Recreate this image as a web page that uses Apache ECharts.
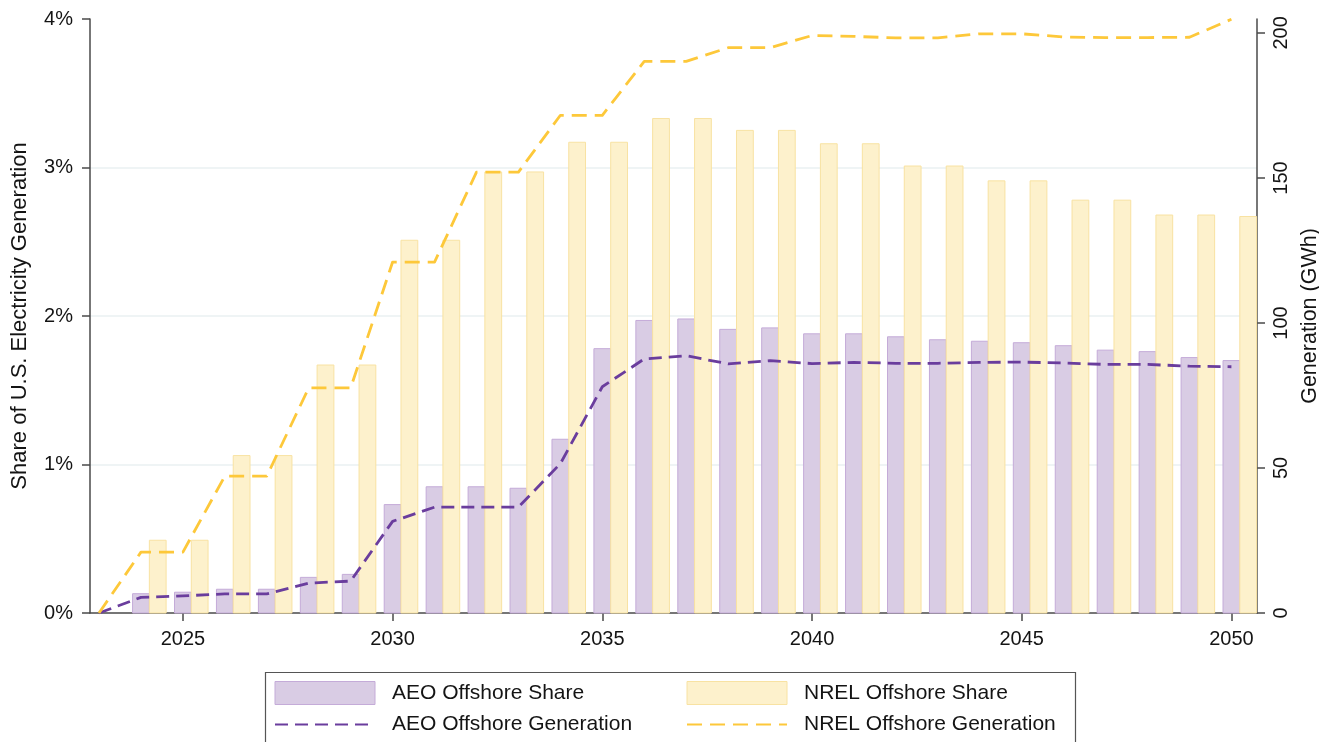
<!DOCTYPE html>
<html>
<head>
<meta charset="utf-8">
<script src="https://cdn.jsdelivr.net/npm/echarts@6/dist/echarts.min.js"></script>
<style>html,body{margin:0;padding:0;background:#fff}#c{width:1319px;height:742px}</style>
</head>
<body>
<div id="c"></div>
<script>
// ---- data ----
const lineYears = [2023,2024,2025,2026,2027,2028,2029,2030,2031,2032,2033,2034,2035,2036,2037,2038,2039,2040,2041,2042,2043,2044,2045,2046,2047,2048,2049,2050];
const barYears  = [2024,2025,2026,2027,2028,2029,2030,2031,2032,2033,2034,2035,2036,2037,2038,2039,2040,2041,2042,2043,2044,2045,2046,2047,2048,2049,2050];
const aeoShare  = [0.13,0.14,0.16,0.16,0.24,0.26,0.73,0.85,0.85,0.84,1.17,1.78,1.97,1.98,1.91,1.92,1.88,1.88,1.86,1.84,1.83,1.82,1.80,1.77,1.76,1.72,1.70];
const nrelShare = [0.49,0.49,1.06,1.06,1.67,1.67,2.51,2.51,2.97,2.97,3.17,3.17,3.33,3.33,3.25,3.25,3.16,3.16,3.01,3.01,2.91,2.91,2.78,2.78,2.68,2.68,2.67];
const aeoGen    = [0,5.4,5.9,6.6,6.6,10.3,11.0,31.6,36.5,36.5,36.5,51.5,78.0,87.6,88.7,85.9,87.0,86.0,86.4,86.1,86.1,86.4,86.5,86.2,85.7,85.7,85.1,84.9];
const nrelGen   = [0,21.0,21.0,47.2,47.2,77.6,77.6,121.0,121.0,152.0,152.0,171.6,171.6,190.2,190.2,194.9,194.9,199.1,198.8,198.3,198.3,199.7,199.7,198.6,198.4,198.4,198.5,204.7];
const xTicks    = [2025,2030,2035,2040,2045,2050];
const leftTicks = [0,1,2,3,4];
const rightTicks= [0,50,100,150,200];

const FONT = "'Liberation Sans', Arial, sans-serif";
const TXT = '#141414';
const AX = '#4a4a4a';
const PURPLE_FILL = '#d9cce4', PURPLE_EDGE = '#c4abd8', PURPLE_LINE = '#6a3d9d';
const YELLOW_FILL = '#fdf1cc', YELLOW_EDGE = '#f8e2a2', YELLOW_LINE = '#fdc83a';

function barRenderer(off0, off1, fill, stroke) {
  return function (params, api) {
    const yr = api.value(0), v = api.value(1);
    const a = api.coord([yr + off0, v]);
    const b = api.coord([yr + off1, 0]);
    return {
      type: 'rect',
      shape: { x: a[0], y: a[1], width: b[0] - a[0], height: b[1] - a[1] },
      style: { fill: fill, stroke: stroke, lineWidth: 1 }
    };
  };
}

const legendCommon = {
  orient: 'vertical', top: 681, padding: 0,
  itemWidth: 100, itemHeight: 23, itemGap: 9,
  textStyle: { fontSize: 21, color: TXT, fontFamily: FONT, padding: [0, 0, 0, 12] }
};

const chart = echarts.init(document.getElementById('c'), null, { renderer: 'canvas' });
chart.setOption({
  animation: false,
  backgroundColor: '#fff',
  textStyle: { fontFamily: FONT },
  grid: { left: 90, right: 62, top: 19, bottom: 129, containLabel: false, outerBoundsMode: 'none' },
  graphic: [{
    type: 'rect', left: 263, top: 670, silent: true,
    shape: { width: 810, height: 90 },
    style: { fill: 'none', stroke: '#555', lineWidth: 1.2 }
  }],
  legend: [Object.assign({}, legendCommon, {
    left: 274,
    data: [
      { name: 'AEO Offshore Share', icon: 'rect', itemStyle: { color: PURPLE_FILL, borderColor: PURPLE_EDGE, borderWidth: 1 } },
      { name: 'AEO Offshore Generation', itemStyle: { opacity: 0 } }
    ]
  }), Object.assign({}, legendCommon, {
    left: 686,
    data: [
      { name: 'NREL Offshore Share', icon: 'rect', itemStyle: { color: YELLOW_FILL, borderColor: YELLOW_EDGE, borderWidth: 1 } },
      { name: 'NREL Offshore Generation', itemStyle: { opacity: 0 } }
    ]
  })],
  xAxis: {
    type: 'value', min: 2022.785, max: 2050.61,
    axisLine: { show: true, lineStyle: { color: AX, width: 1.5 } },
    axisTick: { show: true, length: 8, customValues: xTicks, lineStyle: { color: AX, width: 1.5 } },
    axisLabel: { customValues: xTicks, fontSize: 20, color: TXT, margin: 16, fontFamily: FONT, formatter: v => String(v) },
    splitLine: { show: false }
  },
  yAxis: [{
    type: 'value', min: 0, max: 4, interval: 1, position: 'left',
    name: 'Share of U.S. Electricity Generation', nameLocation: 'middle', nameGap: 59,
    nameTextStyle: { fontSize: 22, color: TXT, fontFamily: FONT },
    axisLine: { show: true, lineStyle: { color: AX, width: 1.5 } },
    axisTick: { show: true, length: 8, lineStyle: { color: AX, width: 1.5 } },
    axisLabel: { customValues: leftTicks, fontSize: 20, color: TXT, margin: 17, fontFamily: FONT, formatter: v => v + '%' },
    splitLine: { show: true, showMinLine: false, showMaxLine: false, lineStyle: { color: '#eaf0f2', width: 1.5 } }
  }, {
    type: 'value', min: 0, max: 204.8, position: 'right',
    name: 'Generation (GWh)', nameLocation: 'middle', nameGap: 40,
    nameTextStyle: { fontSize: 21.5, color: TXT, fontFamily: FONT },
    axisLine: { show: true, lineStyle: { color: AX, width: 1.5 } },
    axisTick: { show: true, length: 8, customValues: rightTicks, lineStyle: { color: AX, width: 1.5 } },
    axisLabel: { customValues: rightTicks, rotate: 90, fontSize: 20, color: TXT, margin: 14, fontFamily: FONT },
    splitLine: { show: false }
  }],
  series: [{
    name: 'AEO Offshore Share', type: 'custom', xAxisIndex: 0, yAxisIndex: 0, z: 2,
    renderItem: barRenderer(-0.2, 0.2, PURPLE_FILL, PURPLE_EDGE),
    encode: { x: 0, y: 1 },
    itemStyle: { color: PURPLE_FILL },
    data: barYears.map((y, i) => [y, aeoShare[i]])
  }, {
    name: 'NREL Offshore Share', type: 'custom', xAxisIndex: 0, yAxisIndex: 0, z: 2,
    renderItem: barRenderer(0.2, 0.6, YELLOW_FILL, YELLOW_EDGE),
    encode: { x: 0, y: 1 },
    itemStyle: { color: YELLOW_FILL },
    data: barYears.map((y, i) => [y, nrelShare[i]])
  }, {
    name: 'AEO Offshore Generation', type: 'line', xAxisIndex: 0, yAxisIndex: 1, z: 5,
    symbol: 'none', showSymbol: false,
    lineStyle: { color: PURPLE_LINE, width: 2.8, type: [13, 7], join: 'round' },
    itemStyle: { color: PURPLE_LINE },
    data: lineYears.map((y, i) => [y, aeoGen[i]])
  }, {
    name: 'NREL Offshore Generation', type: 'line', xAxisIndex: 0, yAxisIndex: 1, z: 5,
    symbol: 'none', showSymbol: false,
    lineStyle: { color: YELLOW_LINE, width: 2.8, type: [15, 8], join: 'round' },
    itemStyle: { color: YELLOW_LINE },
    data: lineYears.map((y, i) => [y, nrelGen[i]])
  }]
});
</script>
</body>
</html>
